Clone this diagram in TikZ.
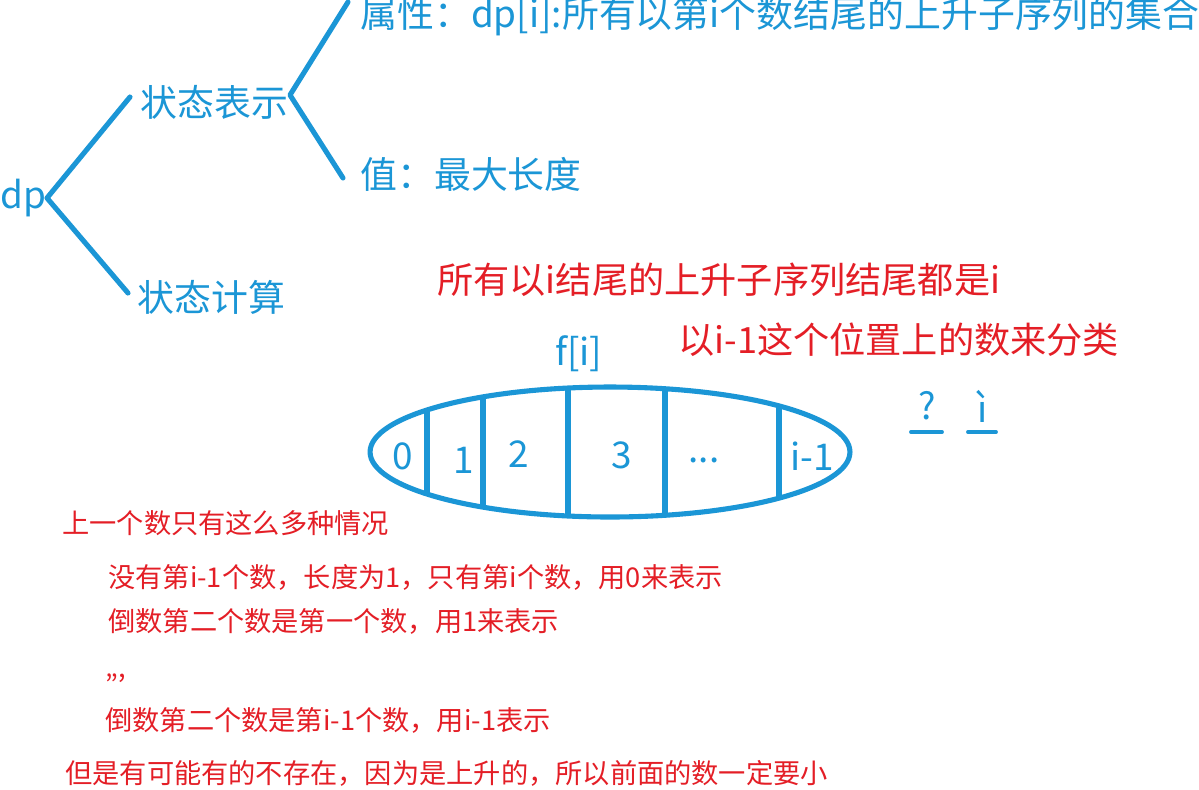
\documentclass[tikz,border=0pt]{standalone}
\usepackage{fontspec}
\setmainfont{Noto Sans CJK SC}
\definecolor{inkblue}{RGB}{27,150,214}
\definecolor{inkred}{RGB}{228,30,38}
\begin{document}
\begin{tikzpicture}[x=0.02cm,y=-0.02cm,
  bluetxt/.style={text=inkblue,inner sep=0pt,font=\fontsize{21}{25}\selectfont},
  redbig/.style={text=inkred,inner sep=0pt,font=\fontsize{20.6}{24}\selectfont},
  redsmall/.style={text=inkred,inner sep=0pt,font=\fontsize{15.5}{18}\selectfont},
  stroke/.style={draw=inkblue,line width=2.9pt,line cap=round,line join=round}]
\useasboundingbox[fill=white] (0,0) rectangle (1199,789);
% tree
\node[bluetxt,anchor=west] (dp) at (0,198) {dp};
\node[bluetxt,anchor=west] (rep) at (140,102) {状态表示};
\node[bluetxt,anchor=west] (calc) at (137,297) {状态计算};
\node[bluetxt,anchor=west] (attr) at (360,16) {属性：dp[i]:所有以第i个数结尾的上升子序列的集合};
\node[bluetxt,anchor=west] (val) at (360,174) {值：最大长度};
\coordinate (v1) at (47,198);
\coordinate (a1) at (130,97);
\coordinate (b1) at (128,293);
\coordinate (v2) at (290,95);
\coordinate (a2) at (348,2);
\coordinate (b2) at (343,178);
\draw[stroke] (a1) -- (v1) -- (b1);
\draw[stroke] (a2) -- (v2) -- (b2);
% red headings
\node[redbig,anchor=west] (h1) at (437,280) {所有以i结尾的上升子序列结尾都是i};
\node[redbig,anchor=west] (h2) at (678,340) {以i-1这个位置上的数来分类};
\node[bluetxt,anchor=west] (fi) at (555,354) {f[i]};
% ellipse
\coordinate (ec) at (610,452);
\draw[stroke] (ec) ellipse [x radius=4.8cm, y radius=1.3cm];
\begin{scope}
\clip (ec) ellipse [x radius=4.8cm, y radius=1.3cm];
\foreach \xx in {427,483,568,665,779}{
  \draw[stroke] (\xx,370) -- (\xx,540);
}
\end{scope}
\node[bluetxt] (c0) at (403,456) {0};
\node[bluetxt] (c1) at (464,460) {1};
\node[bluetxt] (c2) at (519,454) {2};
\node[bluetxt] (c3) at (622,455) {3};
\node[bluetxt] (c4) at (704,460) {...};
\node[bluetxt] (c5) at (812,456) {i-1};
% question marks
\node[bluetxt] (q1) at (927,406) {?};
\node[bluetxt] (q2) at (983,406) {ì};
\coordinate (u1a) at (911,432); \coordinate (u1b) at (942,432);
\coordinate (u2a) at (968,432); \coordinate (u2b) at (996,432);
\draw[stroke,line width=2.2pt] (u1a) -- (u1b);
\draw[stroke,line width=2.2pt] (u2a) -- (u2b);
% lower red text
\node[redsmall,anchor=west] (l1) at (62,523) {上一个数只有这么多种情况};
\node[redsmall,anchor=west] (l2) at (108,577) {没有第i-1个数，长度为1，只有第i个数，用0来表示};
\node[redsmall,anchor=west] (l3) at (108,621) {倒数第二个数是第一个数，用1来表示};
\node[redsmall,anchor=west] (l4) at (105,678) {,,,};
\node[redsmall,anchor=west] (l5) at (105,720) {倒数第二个数是第i-1个数，用i-1表示};
\node[redsmall,anchor=west] (l6) at (65,773) {但是有可能有的不存在，因为是上升的，所以前面的数一定要小};
\end{tikzpicture}
\end{document}
